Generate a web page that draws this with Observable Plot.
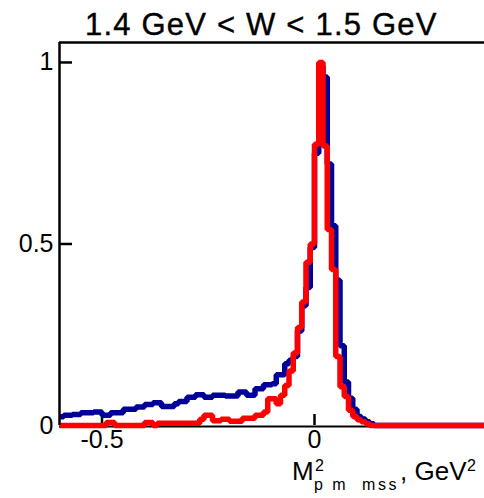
<!DOCTYPE html>
<html>
<head>
<meta charset="utf-8">
<script src="https://cdn.jsdelivr.net/npm/d3@7"></script>
<script src="https://cdn.jsdelivr.net/npm/@observablehq/plot@0.6"></script>
<style>
  html, body { margin: 0; padding: 0; background: #fff; }
  #wrap { position: relative; width: 484px; height: 498px; overflow: hidden; font-family: "Liberation Sans", Arial, sans-serif; color: #000; }
  #wrap svg { position: absolute; left: 0; top: 0; }
  .lbl { position: absolute; line-height: 1; white-space: pre; }
</style>
</head>
<body>
<div id="wrap">
  <div class="lbl" id="title" style="left:85px; top:9px; font-size:31px; letter-spacing:1.2px; -webkit-text-stroke:0.4px #000;"></div>
  <div class="lbl" id="xm" style="left:292px; top:458px; font-size:26px;"></div>
  <div class="lbl" id="xsup1" style="left:315px; top:458px; font-size:16px;"></div>
  <div class="lbl" id="xsub" style="left:314px; top:477px; font-size:16px; letter-spacing:2.5px;"></div>
  <div class="lbl" id="xunit" style="left:400px; top:458px; font-size:26px;"></div>
  <div class="lbl" id="xsup2" style="left:467px; top:458px; font-size:16px;"></div>
</div>
<script>
// ---- data ----
const titleText = "1.4 GeV < W < 1.5 GeV";
const xLabelMain = "M";
const xLabelSup = "2";
const xLabelSub = "p m  mss";
const xLabelUnit = ", GeV";
const xLabelUnitSup = "2";

const xTicks = [-0.5, 0];
const yTicks = [0, 0.5, 1];
const yTickMarks = [0.5, 1];
const xDomain = [-0.6, 0.4];
const yDomain = [0, 1.055];

const binStart = -0.6;
const binWidth = 0.01;

const blueValues = [
  0.024, 0.028, 0.028, 0.030, 0.030, 0.035, 0.035, 0.035, 0.037, 0.037,
  0.028, 0.028, 0.035, 0.035, 0.035, 0.045, 0.045, 0.045, 0.051, 0.051,
  0.058, 0.058, 0.063, 0.063, 0.052, 0.052, 0.052, 0.060, 0.066, 0.066,
  0.078, 0.078, 0.085, 0.085, 0.078, 0.078, 0.083, 0.083, 0.083, 0.081,
  0.081, 0.081, 0.092, 0.092, 0.083, 0.083, 0.101, 0.101, 0.112, 0.112,
  0.115, 0.140, 0.140, 0.170, 0.180, 0.190, 0.260, 0.330, 0.380, 0.490,
  0.750, 0.990, 0.960, 0.720, 0.550, 0.400, 0.220, 0.120, 0.075, 0.045,
  0.025, 0.018, 0.010, 0.005, 0, 0, 0, 0, 0, 0,
  0, 0, 0, 0, 0, 0, 0, 0, 0, 0,
  0, 0, 0, 0, 0, 0, 0, 0, 0, 0
];

const redValues = [
  0, 0, 0, 0, 0, 0, 0, 0, 0, 0,
  0, 0.008, 0.008, 0, 0, 0, 0, 0, 0, 0,
  0.008, 0.008, 0, 0.006, 0.006, 0.006, 0.006, 0.006, 0.006, 0.006,
  0.006, 0.006, 0.006, 0.017, 0.028, 0.028, 0.013, 0.013, 0.017, 0.017,
  0.012, 0.012, 0.012, 0.020, 0.020, 0.020, 0.028, 0.028, 0.037, 0.074,
  0.074, 0.060, 0.083, 0.110, 0.150, 0.200, 0.270, 0.340, 0.450, 0.500,
  0.775, 1.000, 0.770, 0.540, 0.430, 0.190, 0.107, 0.080, 0.042, 0.025,
  0.016, 0.010, 0.005, 0, 0, 0, 0, 0, 0, 0,
  0, 0, 0, 0, 0, 0, 0, 0, 0, 0,
  0, 0, 0, 0, 0, 0, 0, 0, 0, 0
];

function steps(values) {
  const pts = values.map((v, i) => ({x: binStart + i * binWidth, y: v}));
  pts.push({x: binStart + values.length * binWidth, y: values[values.length - 1]});
  return pts;
}

const fmt = d => String(d);

// tick lengths expressed in data units (frame is 425 px wide, 383 px tall)
const xTickLen = (yDomain[1] - yDomain[0]) * 11 / 383;
const yTickLen = (xDomain[1] - xDomain[0]) * 13 / 425;

const chart = Plot.plot({
  width: 484,
  height: 498,
  marginTop: 42,
  marginLeft: 59,
  marginRight: 0,
  marginBottom: 73,
  style: {fontFamily: "'Liberation Sans', Arial, sans-serif", background: "transparent", overflow: "visible"},
  x: {domain: xDomain},
  y: {domain: yDomain},
  marks: [
    Plot.ruleY([yDomain[0]], {stroke: "black", strokeWidth: 2, dy: 1}),
    Plot.ruleX(xTicks, {y1: yDomain[0], y2: xTickLen, stroke: "black", strokeWidth: 2.5}),
    Plot.axisX(xTicks, {tickSize: 0, tickPadding: 5, tickFormat: fmt, fontSize: 25, label: null, fill: "black"}),
    Plot.axisY(yTicks, {tickSize: 0, tickPadding: 6, tickFormat: fmt, fontSize: 25, label: null, fill: "black"}),
    Plot.line(steps(blueValues), {x: "x", y: "y", curve: "step-after", stroke: "#000099", strokeWidth: 5.5, strokeLinejoin: "miter", strokeLinecap: "butt"}),
    Plot.line(steps(redValues), {x: "x", y: "y", curve: "step-after", stroke: "#ff0000", strokeWidth: 5.5, strokeLinejoin: "miter", strokeLinecap: "butt"}),
    Plot.ruleY(yTickMarks, {x1: xDomain[0], x2: xDomain[0] + yTickLen, stroke: "black", strokeWidth: 2.5}),
    Plot.ruleX([xDomain[0]], {stroke: "black", strokeWidth: 2.5}),
    Plot.ruleY([yDomain[1]], {stroke: "black", strokeWidth: 2.5})
  ]
});

const wrap = document.getElementById("wrap");
wrap.insertBefore(chart, wrap.firstChild);
document.getElementById("title").textContent = titleText;
document.getElementById("xm").textContent = xLabelMain;
document.getElementById("xsup1").textContent = xLabelSup;
document.getElementById("xsub").textContent = xLabelSub;
document.getElementById("xunit").textContent = xLabelUnit;
document.getElementById("xsup2").textContent = xLabelUnitSup;
</script>
</body>
</html>
